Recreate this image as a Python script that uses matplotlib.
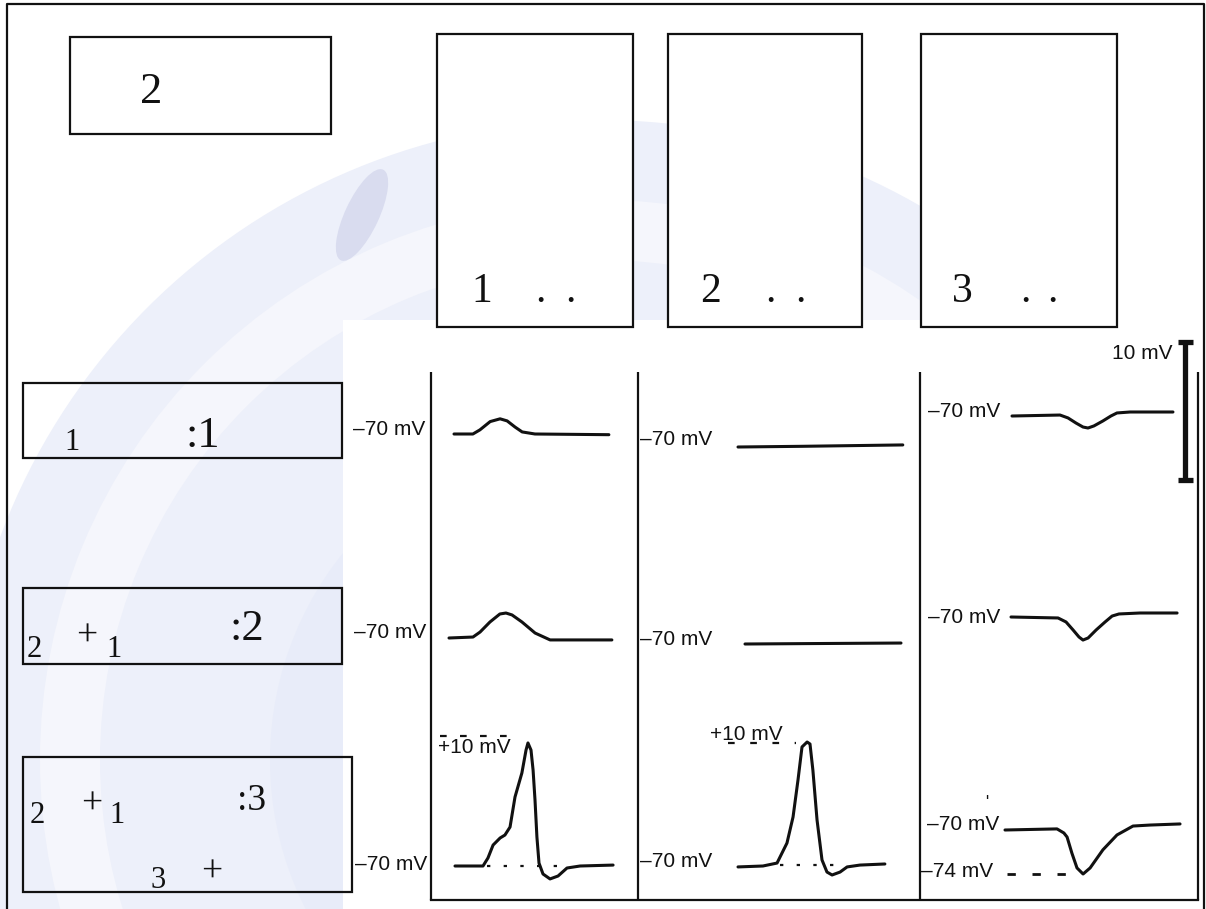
import matplotlib
matplotlib.use("Agg")
import matplotlib.pyplot as plt
from matplotlib.patches import Rectangle, Circle, Ellipse, Wedge

# ---------------- data (time in ms, membrane potential in mV) ----------------
t_r1c1 = [0, 5.9, 8.1, 11.3, 14.4, 16.6, 19.1, 21.3, 25.3, 48.4]
v_r1c1 = [-70, -70, -69.7, -69.1, -68.9, -69.05, -69.5, -69.85, -70, -70.05]

t_r1c2 = [0, 20, 51.5]
v_r1c2 = [-70, -69.95, -69.85]

t_r1c3 = [0, 15, 17.5, 20, 22.2, 23.75, 25.6, 28.4, 30.9, 32.8, 36.9, 50.3]
v_r1c3 = [-70, -69.93, -70.14, -70.51, -70.8, -70.87, -70.72, -70.36, -70.0, -69.78, -69.71, -69.71]

t_r2c1 = [0, 7.5, 9.7, 12.8, 15.9, 17.8, 19.7, 22.8, 26.9, 31.6, 50.9]
v_r2c1 = [-70, -69.93, -69.57, -68.84, -68.26, -68.19, -68.33, -68.84, -69.64, -70.14, -70.14]

t_r2c2 = [0, 20, 48.75]
v_r2c2 = [-70, -69.97, -69.93]

t_r2c3 = [0, 14.7, 17.2, 19.4, 21.25, 22.5, 24.1, 26.6, 29.4, 31.6, 33.75, 40.3, 51.9]
v_r2c3 = [-70, -70.07, -70.36, -70.94, -71.45, -71.67, -71.52, -70.94, -70.36, -69.93, -69.78, -69.71, -69.71]

t_r3c1 = [0, 8.75, 10.3, 11.9, 14.1, 15.6, 17.2, 18.75, 20.9, 22.2, 22.8, 23.75, 24.4, 25,
          25.6, 26.25, 27.5, 29.7, 32.2, 35, 39.1, 49.4]
v_r3c1 = [-70, -70, -64.8, -56.4, -51.8, -49.9, -44.7, -25.2, -9.6, 5.3, 9.9, 5.3, -7.7, -27.1,
          -51.2, -68.1, -75.2, -78.4, -76.5, -71.3, -70, -69.4]

t_r3c2 = [0, 7.8, 12.2, 15.3, 17.2, 18.75, 20, 21.6, 22.5, 23.4, 24.7, 26.25, 27.8, 29.4, 31.9,
          34.1, 38.1, 45.9]
v_r3c2 = [-70.6, -70, -68.1, -55.2, -38.4, -14.5, 6.8, 10, 8.7, -8.1, -40.3, -66.1, -73.9, -75.8,
          -73.9, -70.6, -69.4, -68.7]

t_r3c3 = [0, 16.25, 18.4, 19.4, 20.9, 22.5, 24.4, 26.6, 30.6, 35, 40, 45.3, 54.7]
v_r3c3 = [-70, -69.9, -70.27, -70.64, -72.1, -73.45, -74, -73.45, -71.8, -70.45, -69.64, -69.55, -69.45]

# reference lines: (t_start, t_end, level mV)
ref_r3c1_base = (10, 32.8, -70)
ref_r3c1_peak = (-4.7, 20.3, 14.4)
ref_r3c2_base = (13, 33, -69.5)
ref_r3c2_peak = (-3.1, 18, 9.4)
ref_r3c3_min = (0.6, 21.3, -74)

# text content
box_top_label = "2"
col_box_labels = ["1", "2", "3"]
row_box_labels = [":1", ":2", ":3"]
rest_label = "–70 mV"
peak_label = "+10 mV"
hyper_label = "–74 mV"
scale_label = "10 mV"

# ---------------- layout ----------------
W, H = 1206, 909
fig = plt.figure(figsize=(W / 100, H / 100), dpi=100)
base = fig.add_axes([0, 0, 1, 1])
base.set_xlim(0, W)
base.set_ylim(H, 0)
base.axis("off")

SERIF = "Liberation Serif"
SANS = "Liberation Sans"
K = "#111111"

# faint watermark-like background
base.add_patch(Circle((600, 760), 640, color="#edf0fa", zorder=0, lw=0))
base.add_patch(Wedge((600, 760), 560, 0, 360, width=60, color="#f5f6fc", zorder=0.1, lw=0))
base.add_patch(Circle((600, 760), 330, color="#e8ecf9", zorder=0.05, lw=0))
base.add_patch(Ellipse((362, 215), 34, 100, angle=25, color="#d9dcef", zorder=0.2, lw=0))
# white inset image region
base.add_patch(Rectangle((343, 320), W - 343, H - 320, color="white", zorder=0.5, lw=0))

# outer frame
base.plot([7, 7, 1204, 1204], [H, 4, 4, H], color=K, lw=1.6, zorder=3, solid_capstyle="butt")


def box(x0, y0, x1, y1, fill=None, lw=1.6):
    base.add_patch(Rectangle((x0, y0), x1 - x0, y1 - y0, fill=fill is not None,
                             facecolor=fill if fill else "none", edgecolor=K, lw=lw, zorder=3))


def txt(x, y, s, size, family, ha="left", **kw):
    return base.text(x, y, s, fontsize=size, family=family, ha=ha, va="baseline",
                     color=K, zorder=4, **kw)


# top-left box
box(70, 37, 331, 134, fill="white")
txt(151, 103, box_top_label, 32, SERIF, ha="center")

# three tall boxes
tall = [(437, 633), (668, 862), (921, 1117)]
num_x = [482, 710, 962]
dot_x = [(540, 570), (770, 800), (1025, 1052)]
for (x0, x1), nx, (d1, d2), lab in zip(tall, num_x, dot_x, col_box_labels):
    box(x0, 34, x1, 327, fill="white")
    txt(nx, 302, lab, 30, SERIF, ha="center")
    txt(d1, 302, ".", 30, SERIF, ha="center")
    txt(d2, 302, ".", 30, SERIF, ha="center")

# left condition boxes
PLUS = 27
box(23, 383, 342, 458)
txt(72, 450, "1", 22, SERIF, ha="center")
txt(203, 447, row_box_labels[0], 32, SERIF, ha="center")

box(23, 588, 342, 664)
txt(34, 657, "2", 22, SERIF, ha="center")
txt(87, 646, "+", PLUS, SERIF, ha="center")
txt(114, 657, "1", 22, SERIF, ha="center")
txt(247, 640, row_box_labels[1], 32, SERIF, ha="center")

box(23, 757, 352, 892)
txt(37, 823, "2", 22, SERIF, ha="center")
txt(92, 814, "+", PLUS, SERIF, ha="center")
txt(117, 823, "1", 22, SERIF, ha="center")
txt(252, 810, row_box_labels[2], 27, SERIF, ha="center")
txt(158, 888, "3", 22, SERIF, ha="center")
txt(212, 882, "+", PLUS, SERIF, ha="center")

# panel frame lines of the recording figure
for x in [431, 638, 920, 1198]:
    base.plot([x, x], [372, 900], color=K, lw=1.6, zorder=3, solid_capstyle="butt")
base.plot([431, 1198], [900, 900], color=K, lw=1.6, zorder=3)

# 10 mV scale bar
base.plot([1185, 1185], [342, 480], color=K, lw=3.8, zorder=3, solid_capstyle="butt")
base.plot([1178, 1193], [342, 342], color=K, lw=3.8, zorder=3, solid_capstyle="butt")
base.plot([1178, 1193], [480, 480], color=K, lw=3.8, zorder=3, solid_capstyle="butt")
st = txt(1112, 359, scale_label, 15, SANS)
st.set_clip_path(Rectangle((1100, 348), 90, 20, transform=base.transData))

# voltage labels
LS = 15
txt(353, 435, rest_label, LS, SANS)
txt(640, 445, rest_label, LS, SANS)
txt(928, 417, rest_label, LS, SANS)
txt(354, 638, rest_label, LS, SANS)
txt(640, 645, rest_label, LS, SANS)
txt(928, 623, rest_label, LS, SANS)
txt(355, 870, rest_label, LS, SANS)
txt(438, 753, peak_label, LS, SANS)
txt(640, 867, rest_label, LS, SANS)
txt(710, 740, peak_label, LS, SANS)
txt(927, 830, rest_label, LS, SANS)
txt(921, 877, hyper_label, LS, SANS)
txt(985, 807, "'", 12, SANS)

# ---------------- traces: one axes per cell ----------------
cols = [(431, 638), (638, 920), (920, 1198)]
rows = [(372, 540), (540, 720), (720, 900)]
PX_PER_MS = 3.2
cell_map = {  # (x pixel of t=0, y pixel of -70 mV, px per mV)
    (0, 0): (454, 434, 13.8), (0, 1): (738, 447, 13.8), (0, 2): (1012, 416, 13.8),
    (1, 0): (449, 638, 13.8), (1, 1): (745, 644, 13.8), (1, 2): (1011, 617, 13.8),
    (2, 0): (455, 866, 1.54), (2, 1): (738, 866, 1.55), (2, 2): (1005, 830, 11.0),
}
traces = {
    (0, 0): (t_r1c1, v_r1c1), (0, 1): (t_r1c2, v_r1c2), (0, 2): (t_r1c3, v_r1c3),
    (1, 0): (t_r2c1, v_r2c1), (1, 1): (t_r2c2, v_r2c2), (1, 2): (t_r2c3, v_r2c3),
    (2, 0): (t_r3c1, v_r3c1), (2, 1): (t_r3c2, v_r3c2), (2, 2): (t_r3c3, v_r3c3),
}
axes = {}
for (r, c), (x0, yref, s) in cell_map.items():
    xL, xR = cols[c]
    yT, yB = rows[r]
    ax = fig.add_axes([xL / W, 1 - yB / H, (xR - xL) / W, (yB - yT) / H])
    ax.set_xlim((xL - x0) / PX_PER_MS, (xR - x0) / PX_PER_MS)
    ax.set_ylim(-70 - (yB - yref) / s, -70 + (yref - yT) / s)
    ax.axis("off")
    ax.patch.set_alpha(0)
    t, v = traces[(r, c)]
    ax.plot(t, v, color=K, lw=2.2, solid_joinstyle="round", solid_capstyle="round", zorder=5)
    axes[(r, c)] = ax

def ref(ax, spec, ls, lw=1.6):
    a, b, lev = spec
    ax.plot([a, b], [lev, lev], color=K, lw=lw, ls=ls, zorder=4)

ref(axes[(2, 0)], ref_r3c1_base, (0, (1.5, 6)))
ref(axes[(2, 0)], ref_r3c1_peak, (0, (3, 6)))
ref(axes[(2, 1)], ref_r3c2_base, (0, (1.5, 6)))
ref(axes[(2, 1)], ref_r3c2_peak, (0, (3, 7)))
ref(axes[(2, 2)], ref_r3c3_min, (0, (3, 6)), lw=2)

fig.savefig("out.png", dpi=100)
